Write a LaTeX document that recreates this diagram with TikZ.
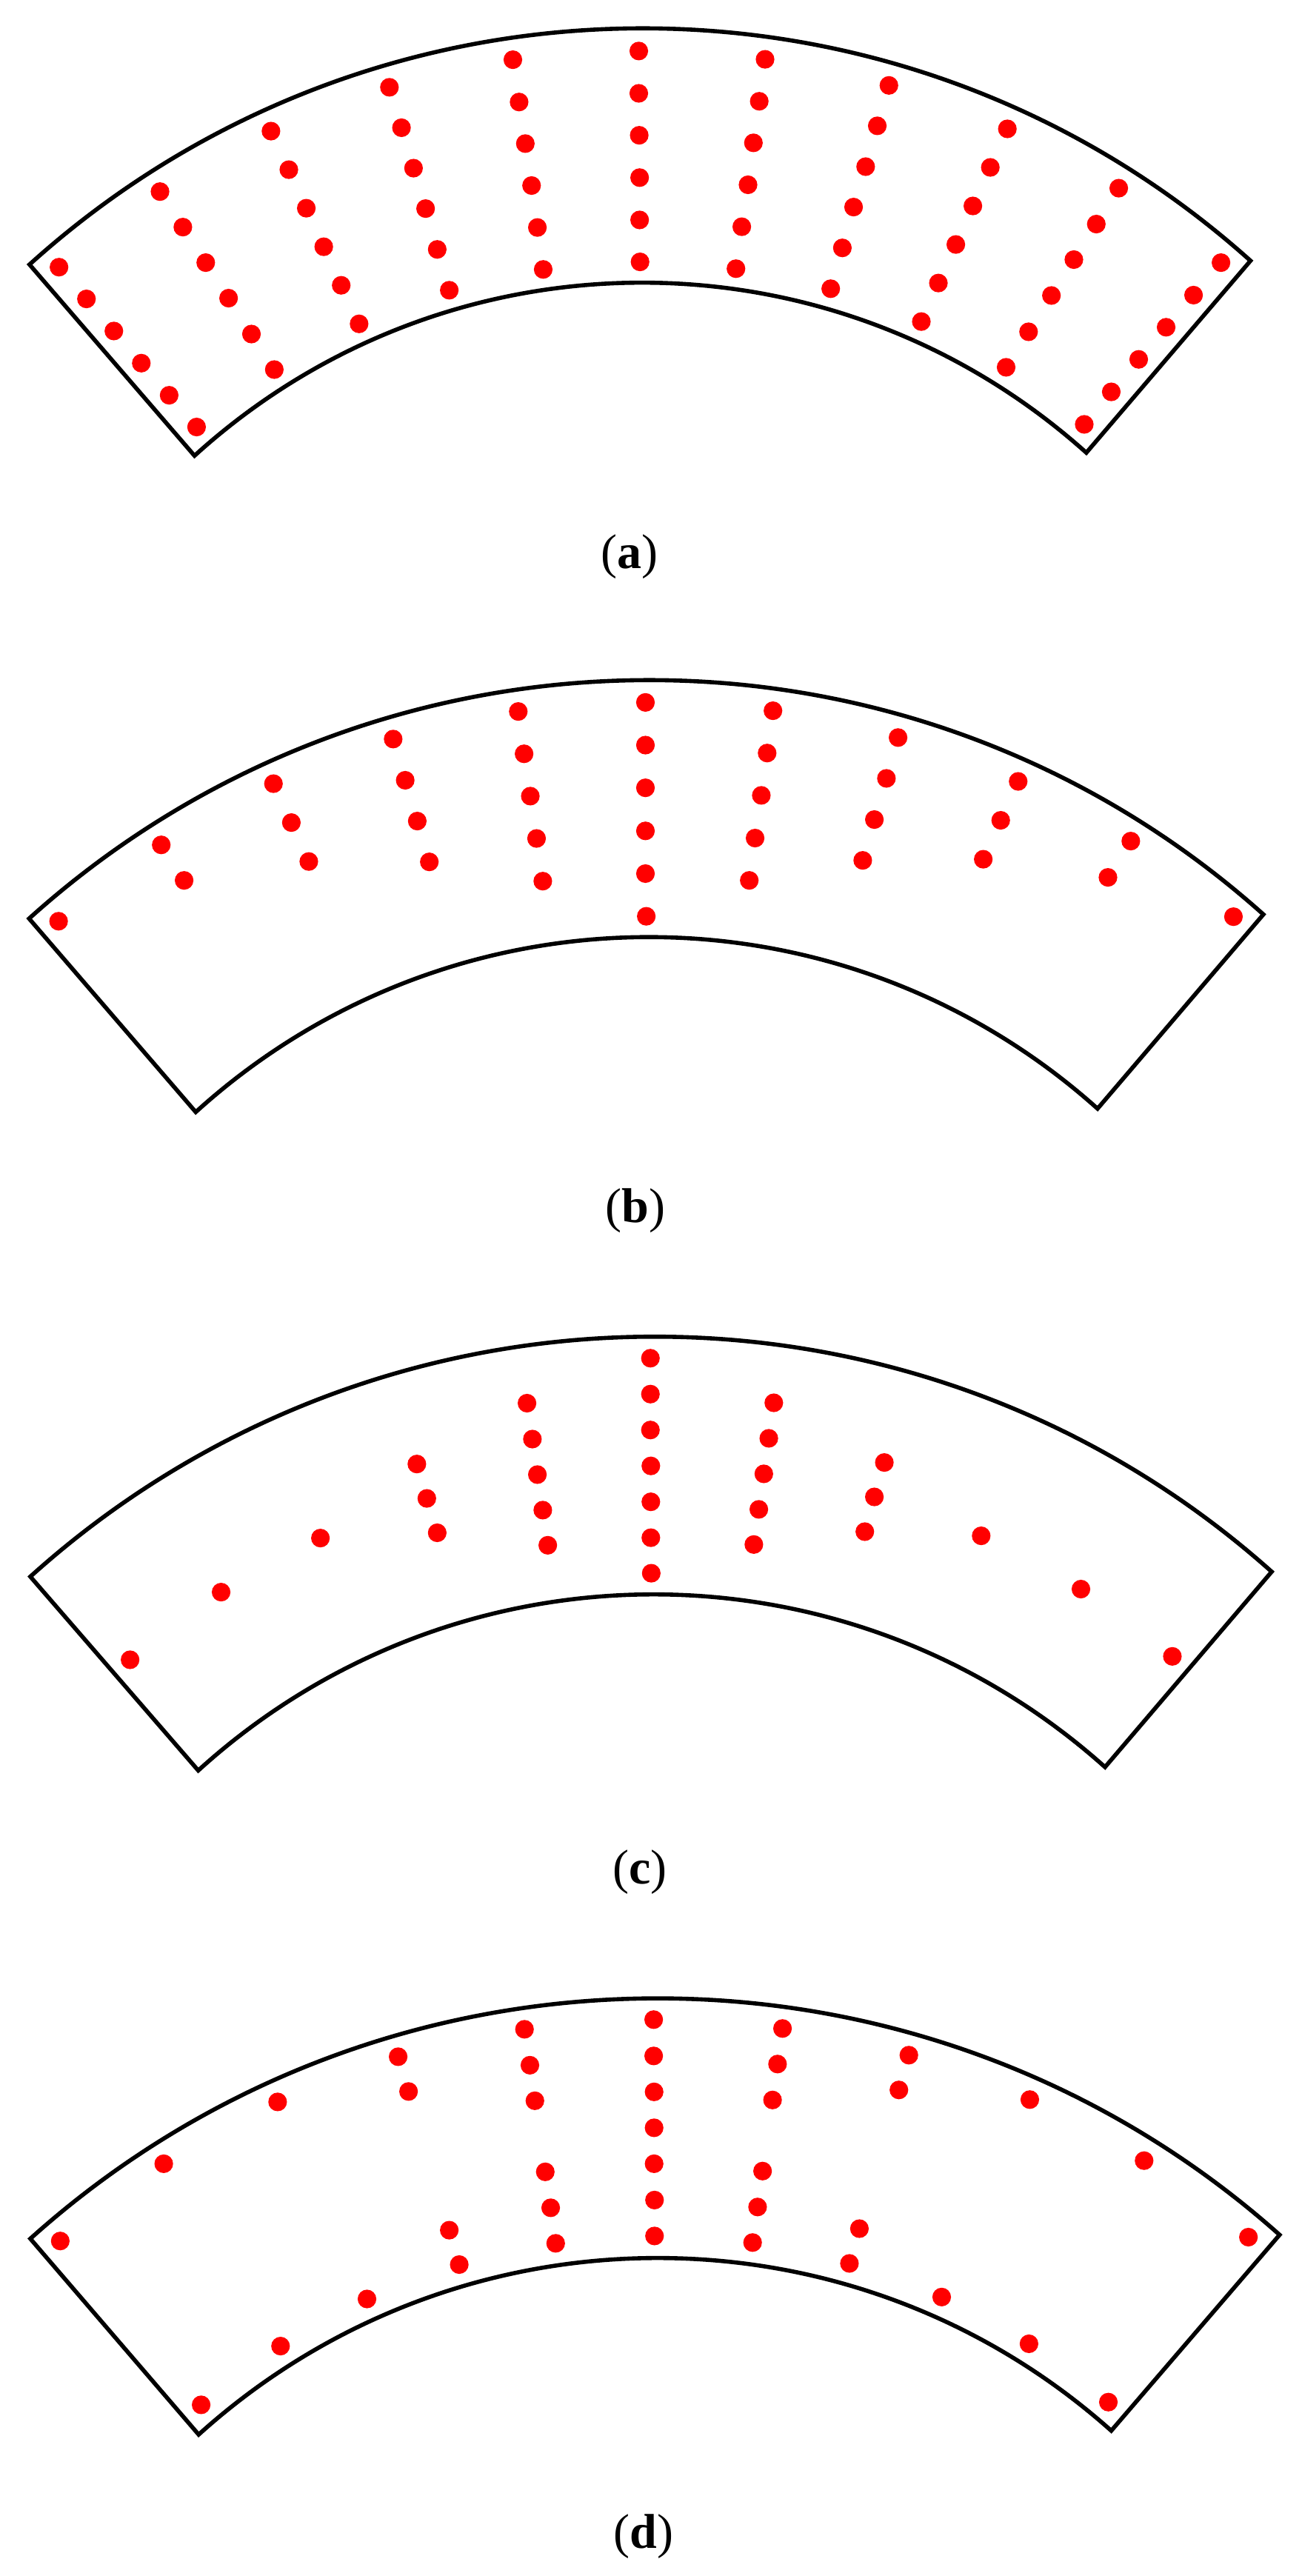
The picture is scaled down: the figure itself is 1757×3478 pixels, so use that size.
\documentclass[tikz,border=0pt]{standalone}
\usepackage{fontspec}
\setmainfont{Liberation Serif}
\usetikzlibrary{calc}
\tikzset{
  sector/.style={draw=black,line width=2.8pt,line join=miter},
  reddot/.style={fill=red,draw=none},
  captext/.style={inner sep=0pt,font=\fontsize{33}{33}\selectfont}
}
\newcommand{\dotsLeft}[1]{\foreach \px/\py in {#1} {\fill[reddot] (\px/1.782,\oy+\py/\fy) circle[radius=6.3pt];}}
\newcommand{\dotsRight}[1]{\foreach \px/\py in {#1} {\fill[reddot] (877+\px/1.782,\oy+\py/\fy) circle[radius=6.3pt];}}
% outer L, inner L, outer R, inner R (crop coordinates), apex x, outer apex y, inner apex y
\newcommand{\sectorshape}[7]{%
  \coordinate (ol) at (#1);
  \coordinate (il) at (#2);
  \coordinate (or) at (#3);
  \coordinate (ir) at (#4);
  \coordinate (ot) at (#5,\oy+#6/\fy);
  \coordinate (it) at (#5,\oy+#7/\fy);
  \coordinate (mo) at ($(ol)!.5!(or)$);
  \coordinate (mi) at ($(il)!.5!(ir)$);
  \draw[sector] (ol)
    .. controls ($(mo)+.2158*(ol)-.2158*(or)+1.3333*(ot)-1.3333*(mo)$)
            and ($(mo)-.2158*(ol)+.2158*(or)+1.3333*(ot)-1.3333*(mo)$) .. (or)
    -- (ir)
    .. controls ($(mi)-.2158*(il)+.2158*(ir)+1.3333*(it)-1.3333*(mi)$)
            and ($(mi)+.2158*(il)-.2158*(ir)+1.3333*(it)-1.3333*(mi)$) .. (il)
    -- cycle;
}
\newcommand{\Lc}[2]{#1/1.782,\oy+#2/\fy}
\newcommand{\Rc}[2]{877+#1/1.782,\oy+#2/\fy}
\begin{document}
\begin{tikzpicture}[x=.5pt,y=-.5pt]
\useasboundingbox (0,0) rectangle (1757,3478);
\fill[white] (0,0) rectangle (1757,3478);

% panel a
\def\oy{0}\def\fy{1.96}
\sectorshape{\Lc{71}{700}}{\Lc{468}{1206}}{\Rc{1446}{690}}{\Rc{1051}{1198}}{864}{75}{748}
\dotsLeft{142/707,208/791,274/876,340/961,407/1046,473/1130,
385/507,440/601,495/695,550/789,605/884,660/978,
652/347,695/449,737/551,779/653,821/755,864/857,
937/231,966/338,995/445,1024/552,1052/660,1081/768,
1234/158,1249/270,1264/380,1279/491,1293/602,1307/713,
1537/135,1537/247,1538/358,1539/470,1539/582,1540/693}
\dotsRight{278/157,264/268,250/378,237/489,222/600,208/711,
576/226,548/333,520/441,491/548,464/656,436/764,
861/341,820/443,778/545,737/647,695/749,654/851,
1129/498,1075/593,1021/687,967/782,912/878,858/972,
1375/695,1309/781,1243/866,1177/951,1111/1037,1046/1123}
\node[captext] (capa) at (850,752) {(\textbf{a})};

% panel b
\def\oy{880}\def\fy{1.96}
\sectorshape{\Lc{70}{706}}{\Lc{471}{1218}}{\Rc{1477}{695}}{\Rc{1078}{1209}}{872.6}{75}{755}
\dotsLeft{141/713,388/511,443/605,
658/349,701/452,743/555,
946/231,975/340,1004/448,1033/556,
1247/158,1261/270,1276/382,1291/494,1306/607,
1553/134,1553/247,1553/360,1553/474,1553/587,1555/700}
\dotsRight{297/156,283/268,269/380,254/493,240/605,
598/227,570/335,541/444,513/552,
887/343,845/446,803/549,
1158/501,1103/597,1405/701}
\node[captext] (capb) at (858,1635) {(\textbf{b})};

% panel c
\def\oy{1770}\def\fy{1.96}
\sectorshape{\Lc{73}{703}}{\Lc{477}{1216}}{\Rc{1497}{690}}{\Rc{1096}{1207}}{879}{68}{750}
\dotsLeft{313/923,532/744,771/601,
1003/405,1027/496,1052/587,
1268/244,1281/339,1293/433,1306/527,1318/620,
1565/125,1565/220,1565/315,1566/410,1566/505,1566/600,1567/694}
\dotsRight{299/243,287/337,275/431,263/525,251/618,
565/401,541/492,518/584,
798/595,1038/736,1258/914}
\node[captext] (capc) at (864,2528) {(\textbf{c})};

% panel d
\def\oy{2660}\def\fy{1.917}
\sectorshape{\Lc{73}{695}}{\Lc{478}{1202}}{\Rc{1516}{685}}{\Rc{1111}{1192}}{884}{73}{745}
\dotsLeft{145/701,394/501,668/341,
958/224,983/314,
1262/153,1275/246,1287/338,1312/522,1325/615,1337/707,
1081/673,1105/762,883/851,675/973,484/1125}
\dotsRight{10/128,10/222,11/315,11/408,11/501,12/595,12/688,
320/151,308/243,296/336,272/520,260/613,248/705,
624/220,600/310,505/669,481/759,
915/335,703/846,913/967,1190/493,1441/691,1104/1118}
\node[captext] (capd) at (869,3425) {(\textbf{d})};
\end{tikzpicture}
\end{document}
